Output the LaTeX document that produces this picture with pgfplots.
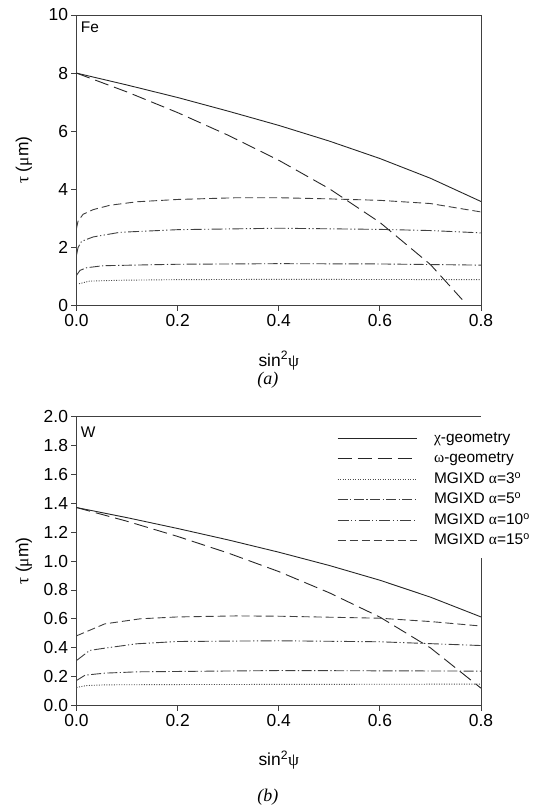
\documentclass[border=0pt]{standalone}
\usepackage{fontspec}
\setmainfont{Liberation Sans}
\newfontfamily\gr{Liberation Serif}
\usepackage{pgfplots}
\pgfplotsset{compat=1.18}

\pgfplotsset{
  panel/.style={
    scale only axis, width=404.5bp,
    xmin=0, xmax=0.8, ymin=0,
    xtick={0,0.2,0.4,0.6,0.8},
    tick pos=left, tick align=outside,
    major tick length=5bp,
    axis line style={black!75, line width=0.8bp},
    every tick/.style={black!75, line width=0.8bp},
    /pgf/number format/assume math mode=true,
    ticklabel style={font=\fontsize{17.5}{20}\selectfont},
    xticklabel style={/pgf/number format/.cd, fixed, fixed zerofill, precision=1},
    xlabel={sin\textsuperscript{2}{\gr ψ}},
    ylabel={{\gr τ} ({\gr μ}m)},
    every axis x label/.style={at={(axis description cs:0.5,-0.19)}, anchor=center,
      font=\fontsize{17.5}{20}\selectfont},
    every axis y label/.style={at={(axis description cs:-0.13,0.5)}, anchor=center, rotate=90,
      font=\fontsize{17.5}{20}\selectfont},
    clip mode=individual,
  },
  chi/.style={black!85, line width=0.9bp},
  omg/.style={black!85, line width=0.9bp, dash pattern=on 14bp off 6bp},
  a3/.style={black!70, line width=0.9bp, dash pattern=on 1bp off 1.5bp},
  a5/.style={black!75, line width=0.9bp, dash pattern=on 10bp off 2.5bp on 1.2bp off 2.5bp},
  a10/.style={black!75, line width=0.9bp, dash pattern=on 11bp off 2.5bp on 1.2bp off 2.5bp on 1.2bp off 2.5bp},
  a15/.style={black!75, line width=0.9bp, dash pattern=on 8bp off 4bp},
}

\begin{document}
\begin{tikzpicture}
\useasboundingbox (-76.5bp,-506.5bp) rectangle (463.5bp,305.5bp);

% (a) Fe
\begin{axis}[panel, height=290.5bp, ymax=10, ytick={0,2,4,6,8,10}]
  \addplot[chi] coordinates {(0,8.0) (0.1,7.59) (0.2,7.16) (0.3,6.69) (0.4,6.20) (0.5,5.66) (0.6,5.06) (0.7,4.38) (0.8,3.58)};
  \addplot[omg] coordinates {(0,8.0) (0.1,7.35) (0.2,6.64) (0.3,5.86) (0.4,5.00) (0.5,4.02) (0.6,2.86) (0.7,1.41) (0.763,0.2)};
  \addplot[a3] coordinates {(0.005,0.75) (0.026,0.84) (0.086,0.87) (0.2,0.89) (0.4,0.90) (0.8,0.89)};
  \addplot[a5] coordinates {(0,1.04) (0.007,1.21) (0.02,1.30) (0.053,1.37) (0.2,1.42) (0.4,1.44) (0.6,1.43) (0.8,1.39)};
  \addplot[a10] coordinates {(0,1.73) (0.003,1.99) (0.01,2.21) (0.033,2.36) (0.086,2.52) (0.2,2.61) (0.4,2.66) (0.6,2.62) (0.7,2.58) (0.8,2.50)};
  \addplot[a15] coordinates {(0,2.65) (0.003,2.9) (0.013,3.14) (0.033,3.30) (0.066,3.45) (0.119,3.57) (0.2,3.65) (0.317,3.71) (0.4,3.71) (0.5,3.67) (0.6,3.62) (0.7,3.51) (0.8,3.22)};
  \node[anchor=north west, inner sep=0pt, xshift=4.3bp, yshift=-6.7bp, font=\fontsize{15.5}{18}\selectfont] at (rel axis cs:0,1) {Fe};
  \node[font=\fontsize{18}{20}\selectfont\gr\itshape] at (rel axis cs:0.473,-0.2565) {(a)};
\end{axis}

% (b) W
\begin{axis}[at={(0bp,-400bp)}, axis x line*=bottom, axis y line*=left, panel,
  height=289bp, ymax=2, ytick={0,0.2,0.4,0.6,0.8,1.0,1.2,1.4,1.6,1.8,2.0},
  yticklabel style={/pgf/number format/.cd, fixed, fixed zerofill, precision=1},
  legend cell align=left,
  legend image code/.code={\draw[#1] (0bp,0bp) -- (79bp,0bp);},
  legend style={draw=none, fill=none, at={(axis description cs:0.6366,0.96)}, anchor=north west,
    font=\fontsize{15.5}{18}\selectfont, row sep=4.5bp,
    nodes={inner sep=1bp, text height=11bp, text depth=3bp},
    /tikz/every odd column/.append style={column sep=16bp}}]
  \addplot[chi] coordinates {(0,1.37) (0.1,1.30) (0.2,1.225) (0.3,1.146) (0.4,1.061) (0.5,0.969) (0.6,0.867) (0.7,0.750) (0.8,0.613)};
  \addlegendentry{{\gr χ}-geometry}
  \addplot[omg] coordinates {(0,1.37) (0.1,1.275) (0.2,1.17) (0.3,1.055) (0.4,0.927) (0.5,0.78) (0.6,0.612) (0.7,0.399) (0.8,0.12)};
  \addlegendentry{{\gr ω}-geometry}
  \addplot[a3] coordinates {(0,0.125) (0.02,0.138) (0.056,0.143) (0.2,0.145) (0.8,0.148)};
  \addlegendentry{MGIXD {\gr α}=3\textsuperscript{o}}
  \addplot[a5] coordinates {(0,0.173) (0.017,0.21) (0.056,0.224) (0.119,0.233) (0.4,0.242) (0.8,0.238)};
  \addlegendentry{MGIXD {\gr α}=5\textsuperscript{o}}
  \addplot[a10] coordinates {(0,0.311) (0.026,0.381) (0.056,0.397) (0.119,0.427) (0.2,0.443) (0.4,0.448) (0.6,0.441) (0.8,0.415)};
  \addlegendentry{MGIXD {\gr α}=10\textsuperscript{o}}
  \addplot[a15] coordinates {(0,0.482) (0.056,0.565) (0.126,0.60) (0.2,0.613) (0.317,0.62) (0.4,0.618) (0.6,0.604) (0.7,0.581) (0.8,0.55)};
  \addlegendentry{MGIXD {\gr α}=15\textsuperscript{o}}
  \draw[black!75, line width=0.8bp] (rel axis cs:0,1) -- (rel axis cs:1,1);
  \draw[black!75, line width=0.8bp] (rel axis cs:1,0) -- (rel axis cs:1,0.51);
  \node[anchor=north west, inner sep=0pt, xshift=4.3bp, yshift=-10bp, font=\fontsize{15.5}{18}\selectfont] at (rel axis cs:0,1) {W};
  \node[font=\fontsize{18}{20}\selectfont\gr\itshape] at (rel axis cs:0.473,-0.3166) {(b)};
\end{axis}
\end{tikzpicture}
\end{document}
